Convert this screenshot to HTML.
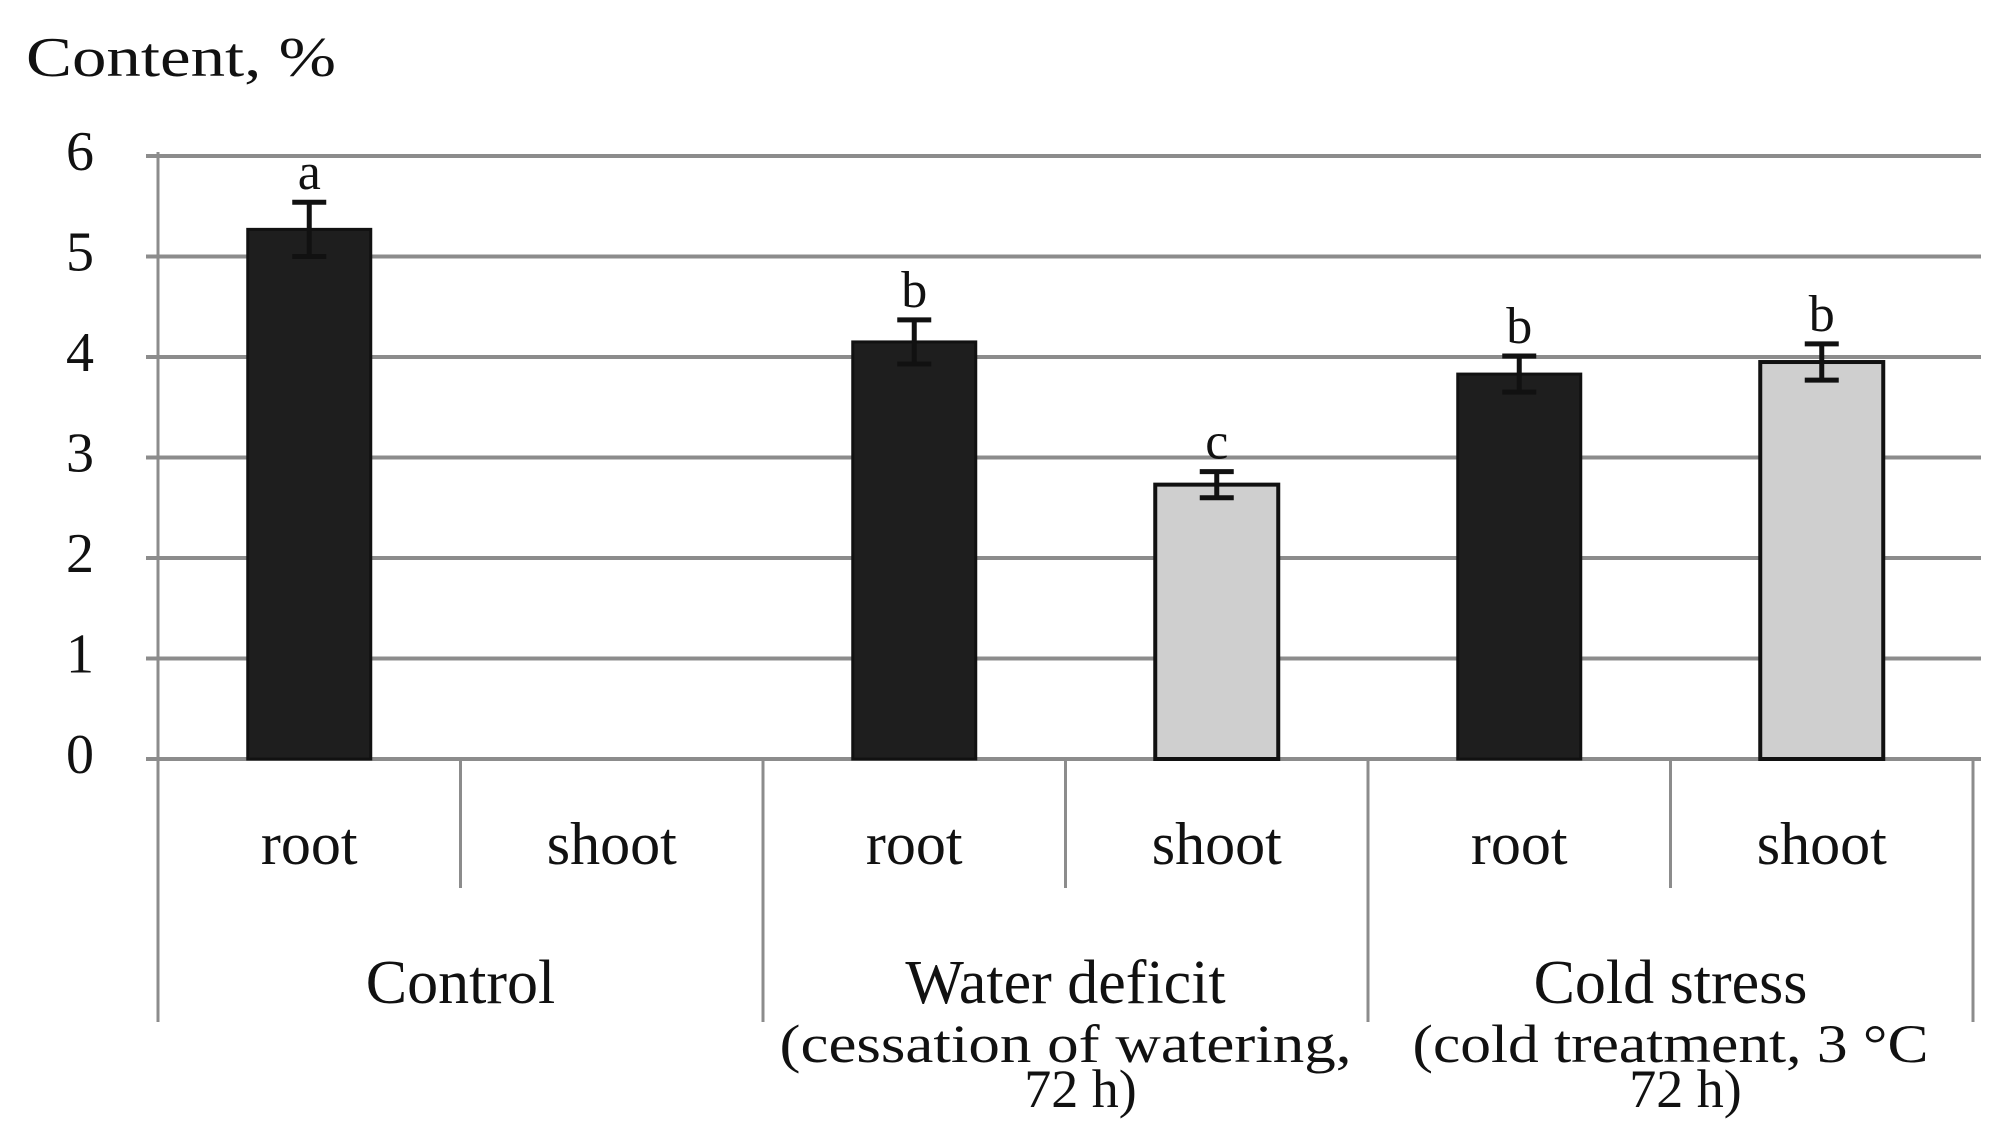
<!DOCTYPE html>
<html><head><meta charset="utf-8"><style>
html,body{margin:0;padding:0;background:#fff;}
svg{display:block;font-family:"Liberation Serif",serif;}
</style></head><body>
<svg id="chart" width="2000" height="1133" viewBox="0 0 2000 1133" xmlns="http://www.w3.org/2000/svg">
<text x="26" y="76" font-size="56" fill="#111" textLength="310" lengthAdjust="spacingAndGlyphs">Content, %</text>
<g id="grid"></g><g id="bars"></g><g id="xaxis"></g>
</svg>
<script>
const categories=["root","shoot","root","shoot","root","shoot"];
const groups=["Control","Water deficit","Cold stress"];
const groupSub1=["","(cessation of watering,","(cold treatment, 3 °C"];
const groupSub2=["","72 h)","72 h)"];
const values=[5.27,null,4.15,2.73,3.83,3.95];
const errors=[0.27,null,0.22,0.13,0.18,0.18];
const letters=["a","","b","c","b","b"];
const isShoot=[false,true,false,true,false,true];
const yTicks=[0,1,2,3,4,5,6];

const NS="http://www.w3.org/2000/svg";
const x0=158,x1=1973,gridEnd=1981,yZero=759,yTop=156,yMax=6;
const catW=(x1-x0)/categories.length, barW=123;
function y(v){return yZero-(v/yMax)*(yZero-yTop);}
function cx(i){return x0+catW*(i+0.5);}
function mk(tag,attrs,parent){const e=document.createElementNS(NS,tag);for(const k in attrs)e.setAttribute(k,attrs[k]);parent.appendChild(e);return e;}
const grid=document.getElementById('grid'),bars=document.getElementById('bars'),xa=document.getElementById('xaxis');
yTicks.forEach(t=>{
  const l=mk('line',{x1:x0-12,x2:gridEnd,y1:y(t),y2:y(t),stroke:'#8c8c8c','stroke-width':4},grid);
  
  
  const tx=mk('text',{x:80,y:y(t)+14,'font-size':56,'text-anchor':'middle',fill:'#111'},grid);
  tx.textContent=t;
  
  
});
const ax=mk('line',{x1:x0,x2:x0,y1:yTop-4,y2:yZero,stroke:'#8c8c8c','stroke-width':3},grid);


values.forEach((v,i)=>{
  if(v==null)return;
  const r=mk('rect',{x:cx(i)-barW/2,y:y(v),width:barW,height:yZero-y(v),fill:isShoot[i]?'#cfcfcf':'#1e1e1e',stroke:'#111','stroke-width':isShoot[i]?4:3},bars);
  
  
  const e=errors[i],hi=y(v+e),lo=y(v-e),c=cx(i);
  const eb=mk('path',{d:`M${c-17},${hi}H${c+17}M${c},${hi}V${lo}M${c-17},${lo}H${c+17}`,stroke:'#111','stroke-width':5,fill:'none'},bars);
  
  
  const lt=mk('text',{x:c,y:hi-13,'font-size':52,'text-anchor':'middle',fill:'#111'},bars);
  lt.textContent=letters[i];
  
  
});
for(let i=0;i<=categories.length;i++){
  const long=(i%2===0);
  const l=mk('line',{x1:x0+catW*i,x2:x0+catW*i,y1:yZero,y2:long?1022:888,stroke:'#8c8c8c','stroke-width':3},xa);
  
  
}
categories.forEach((c,i)=>{
  const t=mk('text',{x:cx(i),y:864,'font-size':60,'text-anchor':'middle',fill:'#111'},xa);
  t.textContent=c;
  
  
});
groups.forEach((g,j)=>{
  const gx=x0+catW*(2*j+1);
  const t=mk('text',{x:gx,y:1003,'font-size':62,'text-anchor':'middle',fill:'#111'},xa);
  t.textContent=g;
  
  
  if(groupSub1[j]){
    const s=mk('text',{x:gx,y:1062,'font-size':54,'text-anchor':'middle',fill:'#111',textLength:j===1?572:516,lengthAdjust:'spacingAndGlyphs'},xa);
    s.textContent=groupSub1[j];
    
    
    const s2=mk('text',{x:gx+15,y:1107,'font-size':54,'text-anchor':'middle',fill:'#111'},xa);
    s2.textContent=groupSub2[j];
    
    
  }
});
</script>
</body></html>
